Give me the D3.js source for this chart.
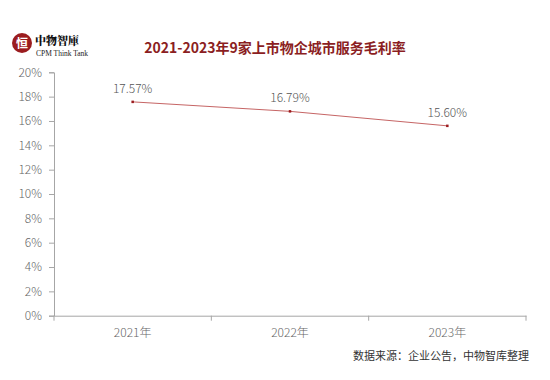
<!DOCTYPE html>
<html><head><meta charset="utf-8">
<script src="https://cdn.jsdelivr.net/npm/d3@7"></script>
<style>body{margin:0;background:#fff;} svg{display:block;}</style>
</head><body>
<script>
const categories = ["2021年","2022年","2023年"];
const values = [17.57, 16.79, 15.60];
const yTicks = [0,2,4,6,8,10,12,14,16,18,20];
const title = "2021-2023年9家上市物企城市服务毛利率";
const source = "数据来源：企业公告，中物智库整理";

const W = 550, H = 380;
const m = {left:54, right:24, top:72.3, bottom:64.3};
const svg = d3.select("body").append("svg").attr("width",W).attr("height",H);
const font = "'Noto Sans CJK SC','Noto Sans',sans-serif";

const x = d3.scaleBand().domain(categories).range([m.left, W-m.right]).paddingInner(0).paddingOuter(0);
const y = d3.scaleLinear().domain([0,20]).range([H-m.bottom, m.top]);

// logo
const logo = svg.append("g");
logo.append("circle").attr("cx",22).attr("cy",43).attr("r",10).attr("fill","#9b1c1f");
logo.append("text").attr("x",22).attr("y",47.5).attr("text-anchor","middle").attr("fill","#fff")
  .attr("font-family",font).attr("font-size",12).attr("font-weight",700).text("恒");
logo.append("text").attr("x",35).attr("y",45).attr("font-family","'Noto Serif CJK SC','Noto Sans CJK TC',serif")
  .attr("font-size",11).attr("font-weight",900).attr("fill","#111").text("中物智庫");
logo.append("text").attr("x",36).attr("y",56).attr("font-family","'Liberation Serif',serif")
  .attr("font-size",7.5).attr("fill","#222").text("CPM Think Tank");

svg.append("text").attr("x",275).attr("y",53).attr("text-anchor","middle")
  .attr("font-family",font).attr("font-size",14).attr("font-weight",700).attr("fill","#8b1e22").text(title);

// y axis
const ya = svg.append("g").attr("transform",`translate(${m.left},0)`)
  .call(d3.axisLeft(y).tickValues(yTicks).tickSize(5).tickPadding(7).tickFormat(d=>d+"%"));
ya.selectAll("path,line").attr("stroke","#a6a6a6");
ya.selectAll("text").attr("font-family",font).attr("font-size",12).attr("font-weight",300).attr("fill","#666");

// x axis
const xa = svg.append("g").attr("transform",`translate(0,${H-m.bottom})`)
  .call(d3.axisBottom(x).tickSize(0).tickSizeOuter(0).tickPadding(13));
xa.select("path").attr("stroke","#a6a6a6");
xa.selectAll("text").attr("font-family",font).attr("font-size",12).attr("font-weight",300).attr("fill","#666");
svg.append("g").selectAll("line").data(categories.concat([null])).join("line")
  .attr("x1",(d,i)=> i<categories.length ? x(d) : x(categories[categories.length-1])+x.bandwidth())
  .attr("x2",(d,i)=> i<categories.length ? x(d) : x(categories[categories.length-1])+x.bandwidth())
  .attr("y1",H-m.bottom).attr("y2",H-m.bottom+5).attr("stroke","#a6a6a6");

const cx = d => x(d)+x.bandwidth()/2;
const line = d3.line().x((d,i)=>cx(categories[i])).y(d=>y(d));
svg.append("path").datum(values).attr("d",line).attr("fill","none").attr("stroke","#c66565").attr("stroke-width",1);
svg.append("g").selectAll("rect").data(values).join("rect")
  .attr("x",(d,i)=>cx(categories[i])-1.25).attr("y",d=>y(d)-1.25).attr("width",2.5).attr("height",2.5).attr("fill","#9b1c1f");
svg.append("g").selectAll("text").data(values).join("text")
  .attr("x",(d,i)=>cx(categories[i])).attr("y",d=>y(d)-9).attr("text-anchor","middle")
  .attr("font-family",font).attr("font-size",12).attr("font-weight",300).attr("fill","#555").text(d=>d.toFixed(2)+"%");

svg.append("text").attr("x",529).attr("y",360).attr("text-anchor","end")
  .attr("font-family",font).attr("font-size",11).attr("fill","#333").text(source);
</script>
</body></html>
